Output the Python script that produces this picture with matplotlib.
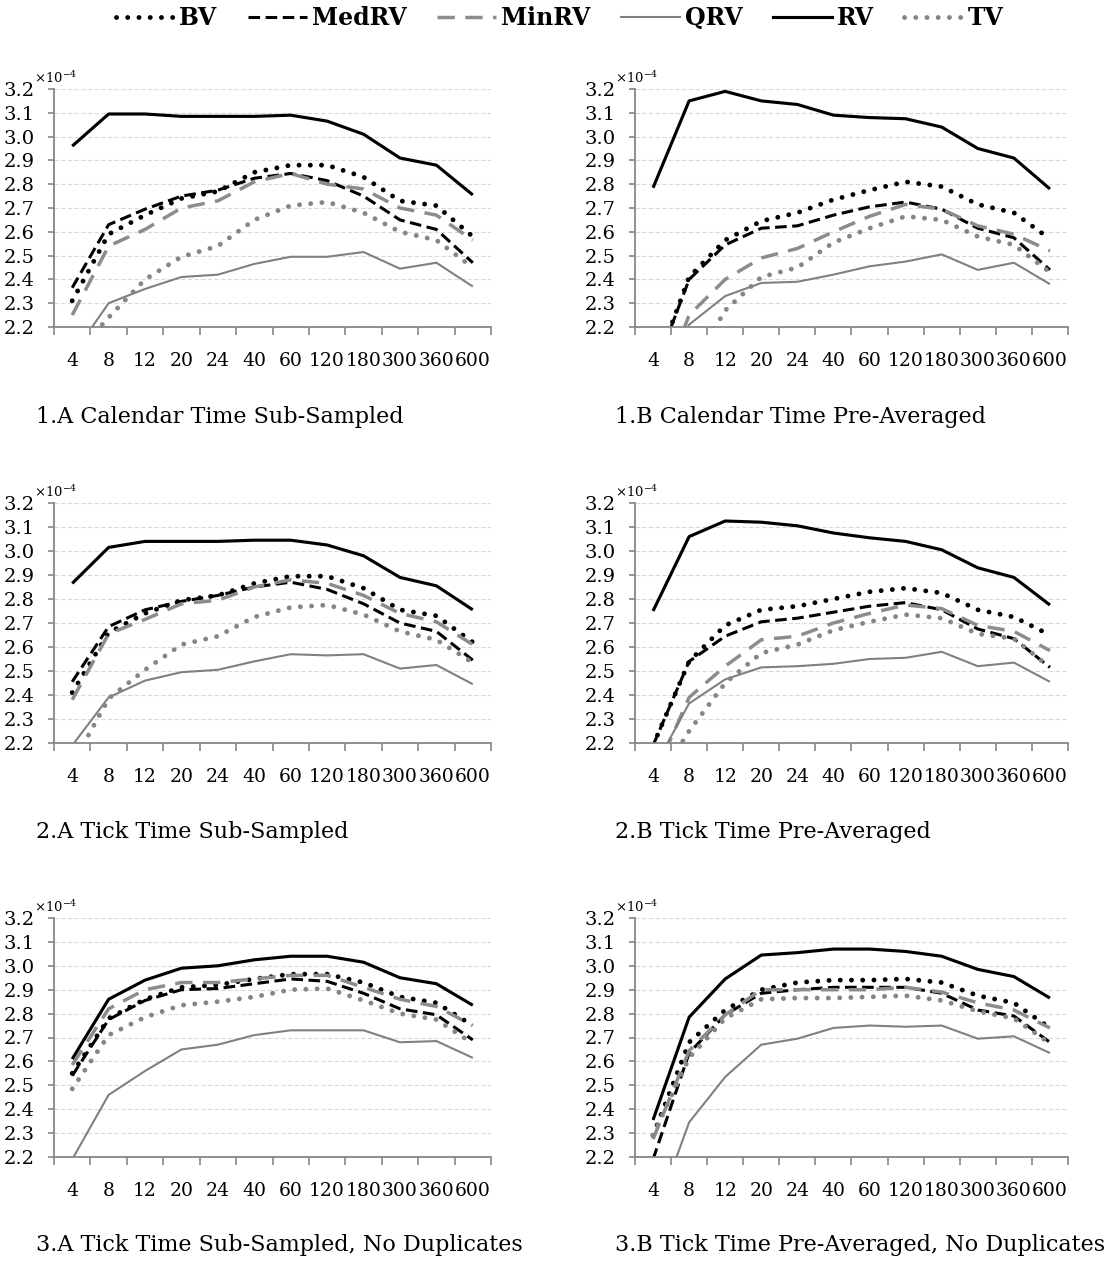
import matplotlib
matplotlib.use("Agg")
import matplotlib.pyplot as plt
from matplotlib.lines import Line2D

plt.rcParams['font.family'] = ['DejaVu Serif']
plt.rcParams['mathtext.fontset'] = 'dejavuserif'

# sampling frequencies (categories) and panel titles
freqs = ['4', '8', '12', '20', '24', '40', '60', '120', '180', '300', '360', '600']
titles = ['1.A Calendar Time Sub-Sampled', '1.B Calendar Time Pre-Averaged',
          '2.A Tick Time Sub-Sampled', '2.B Tick Time Pre-Averaged',
          '3.A Tick Time Sub-Sampled, No Duplicates', '3.B Tick Time Pre-Averaged, No Duplicates']

# values in units of 1e-4, rows = panels 1A, 1B, 2A, 2B, 3A, 3B
BV = [
    [2.31, 2.59, 2.67, 2.74, 2.77, 2.85, 2.88, 2.88, 2.83, 2.73, 2.71, 2.58],
    [2.00, 2.41, 2.565, 2.645, 2.68, 2.735, 2.775, 2.81, 2.79, 2.715, 2.68, 2.57],
    [2.41, 2.66, 2.74, 2.795, 2.815, 2.865, 2.895, 2.895, 2.845, 2.755, 2.73, 2.62],
    [2.19, 2.54, 2.69, 2.755, 2.77, 2.80, 2.83, 2.845, 2.825, 2.755, 2.725, 2.65],
    [2.55, 2.78, 2.86, 2.91, 2.92, 2.945, 2.965, 2.965, 2.93, 2.87, 2.845, 2.75],
    [2.29, 2.68, 2.815, 2.90, 2.93, 2.94, 2.94, 2.945, 2.93, 2.875, 2.845, 2.74],
]
MedRV = [
    [2.365, 2.63, 2.695, 2.75, 2.775, 2.825, 2.845, 2.815, 2.75, 2.65, 2.61, 2.47],
    [2.00, 2.40, 2.545, 2.615, 2.625, 2.67, 2.705, 2.725, 2.695, 2.615, 2.575, 2.44],
    [2.455, 2.685, 2.755, 2.79, 2.815, 2.85, 2.87, 2.84, 2.78, 2.70, 2.665, 2.545],
    [2.19, 2.54, 2.645, 2.705, 2.72, 2.745, 2.77, 2.785, 2.755, 2.675, 2.635, 2.515],
    [2.54, 2.775, 2.855, 2.90, 2.905, 2.925, 2.945, 2.935, 2.885, 2.82, 2.795, 2.69],
    [2.19, 2.635, 2.795, 2.885, 2.90, 2.91, 2.91, 2.91, 2.885, 2.815, 2.79, 2.68],
]
MinRV = [
    [2.25, 2.54, 2.61, 2.70, 2.73, 2.81, 2.845, 2.80, 2.78, 2.70, 2.67, 2.565],
    [1.85, 2.25, 2.40, 2.49, 2.53, 2.60, 2.665, 2.715, 2.695, 2.625, 2.59, 2.52],
    [2.38, 2.655, 2.715, 2.78, 2.795, 2.85, 2.88, 2.865, 2.815, 2.74, 2.705, 2.61],
    [2.05, 2.39, 2.52, 2.63, 2.645, 2.70, 2.74, 2.775, 2.76, 2.69, 2.665, 2.585],
    [2.585, 2.82, 2.90, 2.93, 2.93, 2.945, 2.96, 2.96, 2.91, 2.86, 2.83, 2.75],
    [2.275, 2.645, 2.795, 2.90, 2.90, 2.90, 2.90, 2.91, 2.89, 2.845, 2.815, 2.74],
]
QRV = [
    [2.08, 2.30, 2.36, 2.41, 2.42, 2.465, 2.495, 2.495, 2.515, 2.445, 2.47, 2.37],
    [1.90, 2.21, 2.33, 2.385, 2.39, 2.42, 2.455, 2.475, 2.505, 2.44, 2.47, 2.38],
    [2.19, 2.39, 2.46, 2.495, 2.505, 2.54, 2.57, 2.565, 2.57, 2.51, 2.525, 2.445],
    [2.09, 2.365, 2.465, 2.515, 2.52, 2.53, 2.55, 2.555, 2.58, 2.52, 2.535, 2.455],
    [2.19, 2.46, 2.56, 2.65, 2.67, 2.71, 2.73, 2.73, 2.73, 2.68, 2.685, 2.615],
    [1.93, 2.345, 2.535, 2.67, 2.695, 2.74, 2.75, 2.745, 2.75, 2.695, 2.705, 2.635],
]
RV = [
    [2.96, 3.095, 3.095, 3.085, 3.085, 3.085, 3.09, 3.065, 3.01, 2.91, 2.88, 2.755],
    [2.785, 3.15, 3.19, 3.15, 3.135, 3.09, 3.08, 3.075, 3.04, 2.95, 2.91, 2.78],
    [2.865, 3.015, 3.04, 3.04, 3.04, 3.045, 3.045, 3.025, 2.98, 2.89, 2.855, 2.755],
    [2.75, 3.06, 3.125, 3.12, 3.105, 3.075, 3.055, 3.04, 3.005, 2.93, 2.89, 2.775],
    [2.61, 2.86, 2.94, 2.99, 3.0, 3.025, 3.04, 3.04, 3.015, 2.95, 2.925, 2.835],
    [2.355, 2.785, 2.945, 3.045, 3.055, 3.07, 3.07, 3.06, 3.04, 2.985, 2.955, 2.865],
]
TV = [
    [2.07, 2.24, 2.40, 2.495, 2.54, 2.65, 2.71, 2.725, 2.68, 2.60, 2.565, 2.45],
    [1.80, 2.01, 2.27, 2.41, 2.45, 2.555, 2.615, 2.665, 2.65, 2.58, 2.545, 2.43],
    [2.11, 2.385, 2.505, 2.61, 2.645, 2.725, 2.765, 2.775, 2.735, 2.665, 2.63, 2.535],
    [2.01, 2.25, 2.45, 2.575, 2.61, 2.67, 2.705, 2.735, 2.72, 2.655, 2.635, 2.515],
    [2.485, 2.71, 2.785, 2.835, 2.85, 2.87, 2.90, 2.905, 2.855, 2.80, 2.775, 2.675],
    [2.29, 2.615, 2.78, 2.86, 2.865, 2.865, 2.87, 2.875, 2.855, 2.81, 2.78, 2.675],
]

series = [
    ('BV', BV, dict(color='black', lw=3.5, ls=(0, (0.01, 2.3)), dash_capstyle='round')),
    ('MedRV', MedRV, dict(color='black', lw=2.2, ls=(0, (3.8, 1.8)))),
    ('MinRV', MinRV, dict(color='#8c8c8c', lw=2.5, ls=(0, (5, 3)))),
    ('QRV', QRV, dict(color='#808080', lw=1.5, ls='-')),
    ('RV', RV, dict(color='black', lw=2.25, ls='-')),
    ('TV', TV, dict(color='#858585', lw=3.5, ls=(0, (0.01, 2.3)), dash_capstyle='round')),
]

W, H = 1104, 1262
fig = plt.figure(figsize=(W / 100, H / 100), dpi=100)

col_x = [(54, 491), (635, 1068)]
row_y = [(89, 327), (503, 743), (918, 1157)]
title_x = [36, 615]
title_y = [417, 832, 1245]
spine_col = '#868686'

x = list(range(len(freqs)))
for p in range(6):
    r, c = divmod(p, 2)
    x0, x1 = col_x[c]
    y0, y1 = row_y[r]
    ax = fig.add_axes([x0 / W, 1 - y1 / H, (x1 - x0) / W, (y1 - y0) / H])
    for name, data, st in series:
        ax.plot(x, data[p], label=name, solid_capstyle='butt', **st)
    ax.set_xlim(-0.5, len(freqs) - 0.5)
    ax.set_ylim(2.2, 3.2)
    ax.set_yticks([2.2 + 0.1 * i for i in range(11)])
    ax.set_yticklabels(['%.1f' % (2.2 + 0.1 * i) for i in range(11)])
    ax.set_xticks([i - 0.5 for i in range(len(freqs) + 1)])
    ax.set_xticklabels([])
    ax.set_xticks(x, minor=True)
    ax.set_xticklabels(freqs, minor=True)
    ax.tick_params(axis='x', which='major', length=6, width=1.2, color=spine_col, direction='out')
    ax.tick_params(axis='x', which='minor', length=0, pad=18, labelsize=13.5)
    ax.tick_params(axis='y', length=4, width=1.2, color=spine_col, pad=10, labelsize=14)
    ax.grid(axis='y', color='#d9d9d9', ls=(0, (4, 2)), lw=0.8)
    ax.set_axisbelow(True)
    for s in ['top', 'right']:
        ax.spines[s].set_visible(False)
    for s in ['left', 'bottom']:
        ax.spines[s].set_color(spine_col)
        ax.spines[s].set_linewidth(1.3)
    fig.text((x0 - 20) / W, 1 - (y0 - 6) / H, r'$\times10^{-4}$', fontsize=9.5,
             ha='left', va='baseline')
    fig.text(title_x[c] / W, 1 - title_y[r] / H, titles[p], fontsize=16,
             ha='left', va='center')

handles = [Line2D([], [], **st) for _, _, st in series]
fig.legend(handles, [s[0] for s in series], loc='center', bbox_to_anchor=(0.507, 0.9855),
           ncol=6, frameon=False, handlelength=2.5, handletextpad=0.2, columnspacing=1.3,
           prop={'weight': 'bold', 'size': 17})

fig.savefig('out.png', dpi=100)
